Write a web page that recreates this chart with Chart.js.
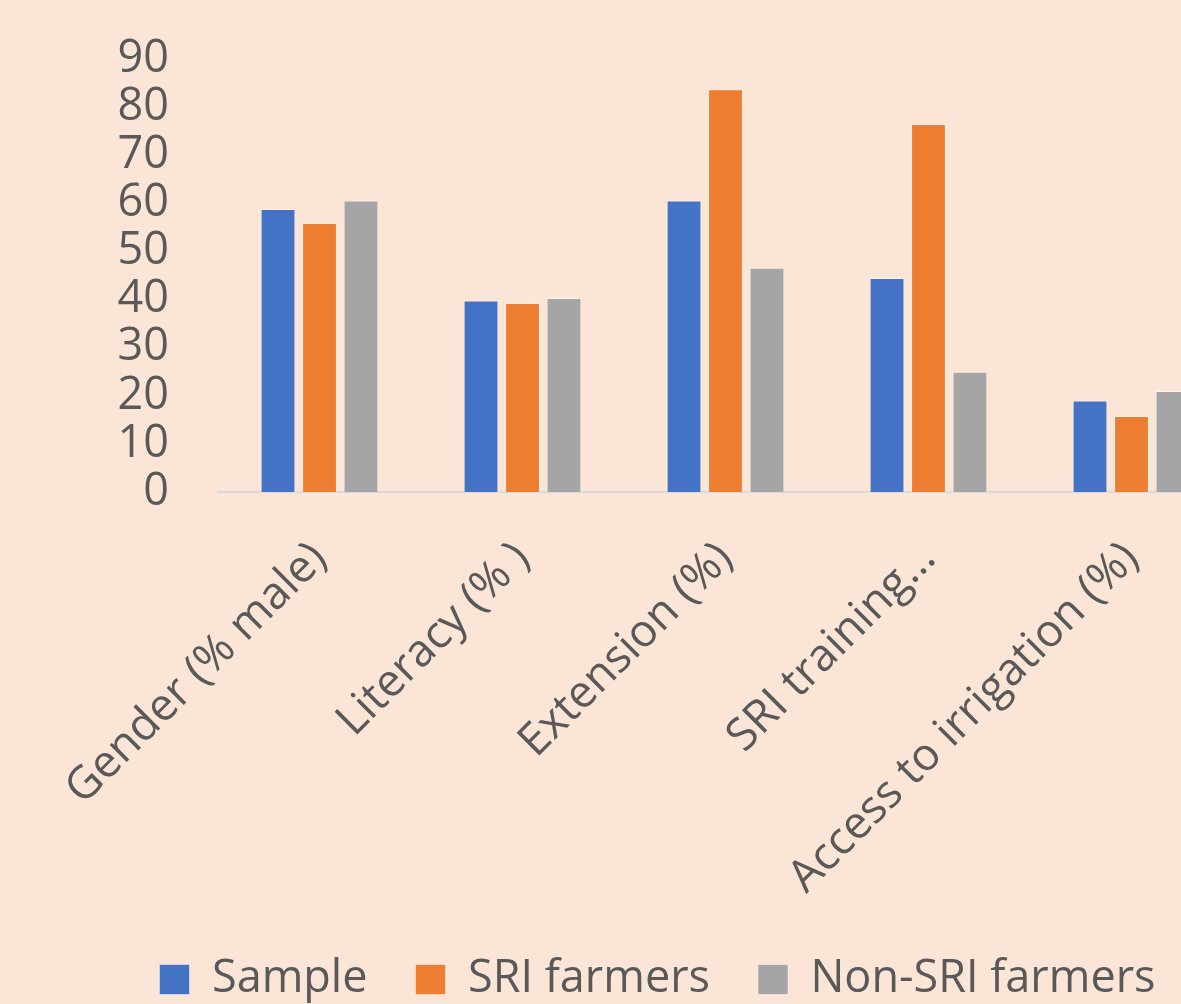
<!DOCTYPE html>
<html>
<head>
<meta charset="utf-8">
<script src="https://cdn.jsdelivr.net/npm/chart.js@4.4.1/dist/chart.umd.min.js"></script>
<style>
  html, body { margin: 0; padding: 0; background: #FBE5D6; overflow: hidden; }
  #wrap { position: absolute; left: 0; top: 0; width: 1240px; height: 1004px; }
</style>
</head>
<body>
<div id="wrap"><canvas id="c" width="1240" height="1004"></canvas></div>
<script>
// Farmer characteristics by group (percent)
const categories = ["Gender (% male)", "Literacy (% )", "Extension (%)", "SRI training…", "Access to irrigation (%)"];
const sampleValues = [58.8, 39.8, 60.6, 44.5, 19.0];
const sriValues = [55.9, 39.3, 83.7, 76.5, 15.8];
const nonSriValues = [60.6, 40.3, 46.6, 25.0, 21.0];
const yTicks = [0, 10, 20, 30, 40, 50, 60, 70, 80, 90];

const textColor = '#595959';
const fontFamily = '"Open Sans", "Liberation Sans", sans-serif';

// Nudge the legend block right/down after layout
const legendOffset = {
  id: 'legendOffset',
  afterLayout(chart) {
    const lg = chart.legend;
    if (!lg) return;
    lg.left += 41; lg.right += 41;
    lg.top += 8; lg.bottom += 8;
  }
};

new Chart(document.getElementById('c'), {
  type: 'bar',
  data: {
    labels: categories,
    datasets: [
      { label: 'Sample', data: sampleValues, backgroundColor: '#4472C4' },
      { label: 'SRI farmers', data: sriValues, backgroundColor: '#ED7D31' },
      { label: 'Non-SRI farmers', data: nonSriValues, backgroundColor: '#A5A5A5' }
    ].map(d => Object.assign(d, {
      borderColor: 'rgba(255,255,255,0.45)',
      borderWidth: 1,
      categoryPercentage: 0.613,
      barPercentage: 0.84
    }))
  },
  plugins: [legendOffset],
  options: {
    responsive: false,
    animation: false,
    layout: { padding: { top: 59, right: 7, left: 0, bottom: 0 } },
    plugins: {
      tooltip: { enabled: false },
      legend: {
        position: 'bottom',
        labels: {
          boxWidth: 30,
          boxHeight: 30,
          padding: 48,
          color: textColor,
          font: { family: fontFamily, size: 45 }
        }
      }
    },
    scales: {
      y: {
        min: 0,
        max: 90,
        afterBuildTicks: s => { s.ticks = yTicks.map(v => ({ value: v })); },
        afterFit: s => { s.width = 218; s.paddingTop = 0; },
        grid: { display: false },
        border: { display: false },
        ticks: {
          autoSkip: false,
          padding: 41,
          color: textColor,
          font: { family: fontFamily, size: 45, lineHeight: 1 }
        }
      },
      x: {
        afterFit: s => { s.height = 409; },
        grid: { display: false },
        border: { display: true, color: '#D9D9D9', width: 2 },
        ticks: {
          minRotation: 45,
          maxRotation: 45,
          autoSkip: false,
          padding: 32,
          color: textColor,
          font: { family: fontFamily, size: 45 }
        }
      }
    }
  }
});
</script>
</body>
</html>
